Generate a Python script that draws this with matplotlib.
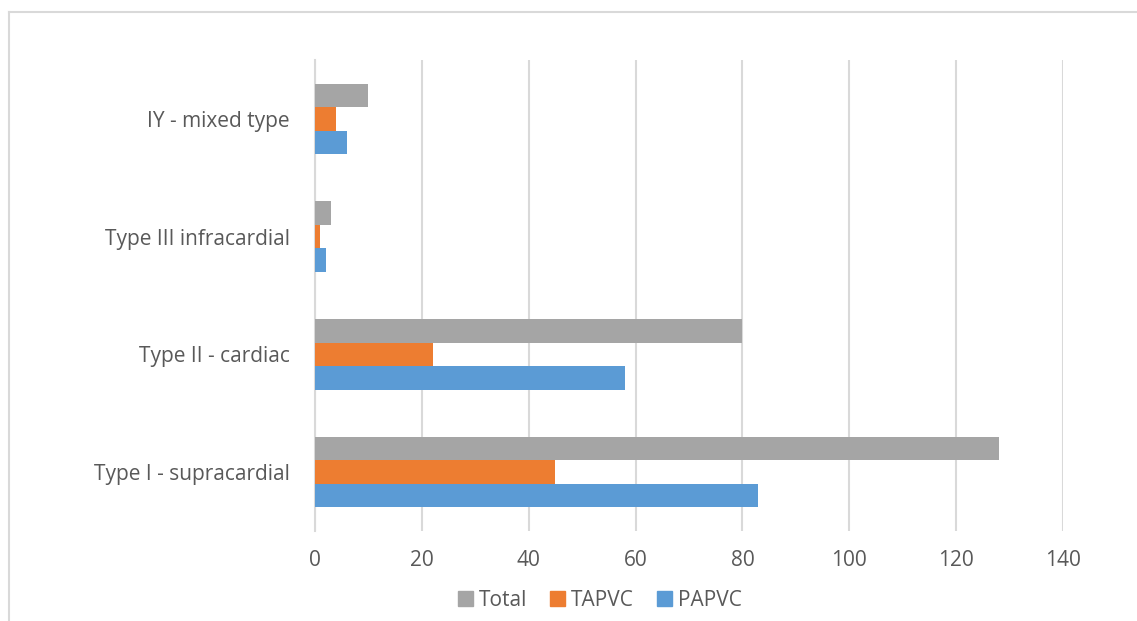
import numpy as np
import matplotlib.pyplot as plt
from matplotlib.lines import Line2D
from matplotlib.patches import Patch

# Dados
categorias = ["Type I - supracardial", "Type II - cardiac",
              "Type III infracardial", "IY - mixed type"]
papvc = [83, 58, 2, 6]
tapvc = [45, 22, 1, 4]
total = [128, 80, 3, 10]

cor_papvc = "#5b9bd5"
cor_tapvc = "#ed7d31"
cor_total = "#a5a5a5"
cor_texto = "#595959"
cor_grade = "#d9d9d9"

plt.rcParams['font.family'] = ['Open Sans', 'DejaVu Sans']

fig = plt.figure(figsize=(11.37, 6.21), dpi=100)
ax = fig.add_axes([315 / 1137, 1 - 531 / 621, (1063 - 315) / 1137, (531 - 60) / 621])

y = np.arange(len(categorias))
altura = 0.2
ax.barh(y - altura, papvc, height=altura, color=cor_papvc, label="PAPVC", zorder=3)
ax.barh(y, tapvc, height=altura, color=cor_tapvc, label="TAPVC", zorder=3)
ax.barh(y + altura, total, height=altura, color=cor_total, label="Total", zorder=3)

ax.set_xlim(0, 140)
ax.set_ylim(-0.5, len(categorias) - 0.5)
ax.set_xticks(np.arange(0, 141, 20))
ax.set_yticks(y)
ax.set_yticklabels(categorias)
ax.grid(axis='x', color=cor_grade, linewidth=1.5, zorder=0)

for lado in ['top', 'right', 'bottom']:
    ax.spines[lado].set_visible(False)
ax.spines['left'].set_color(cor_grade)
ax.spines['left'].set_linewidth(1.5)
ax.tick_params(axis='both', length=0, labelsize=15, colors=cor_texto)
ax.tick_params(axis='x', pad=14)
ax.tick_params(axis='y', pad=18)

# Legenda
handles = [Patch(color=cor_total, label="Total"),
           Patch(color=cor_tapvc, label="TAPVC"),
           Patch(color=cor_papvc, label="PAPVC")]
leg = fig.legend(handles=handles, loc='center', bbox_to_anchor=(600 / 1137, 1 - 600 / 621),
                 ncol=3, frameon=False, fontsize=15, handlelength=0.7, handleheight=0.7,
                 handletextpad=0.3, columnspacing=1.1)
for t in leg.get_texts():
    t.set_color(cor_texto)

# Moldura do gráfico
fig.add_artist(Line2D([9 / 1137, 9 / 1137], [0, 1 - 12 / 621], transform=fig.transFigure,
                      color=cor_grade, linewidth=1.5))
fig.add_artist(Line2D([9 / 1137, 1], [1 - 12 / 621, 1 - 12 / 621], transform=fig.transFigure,
                      color=cor_grade, linewidth=1.5))

fig.savefig("out.png", dpi=100)
